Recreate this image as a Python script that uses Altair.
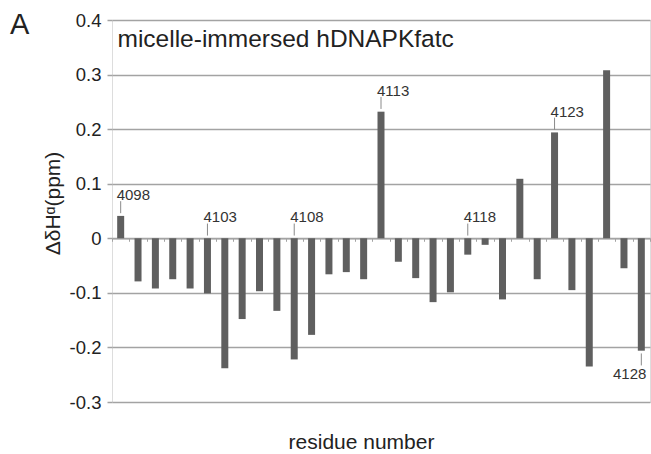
import altair as alt
import pandas as pd

# Hα chemical shift deviations per residue (ppm)
residues = list(range(4098, 4129))
shifts = [0.041, -0.079, -0.092, -0.075, -0.092, -0.101, -0.238, -0.148, -0.097,
          -0.133, -0.222, -0.177, -0.066, -0.062, -0.075, 0.232, -0.043, -0.073,
          -0.117, -0.099, -0.030, -0.012, -0.112, 0.109, -0.075, 0.194, -0.095,
          -0.235, 0.308, -0.055, -0.206]

# residues that get a numbered callout; the last one is labelled under its bar
labeled = [4098, 4103, 4108, 4113, 4118, 4123, 4128]
below = [4128]
y_ticks = [-0.3, -0.2, -0.1, 0, 0.1, 0.2, 0.3, 0.4]

panel_title = "micelle-immersed hDNAPKfatc"
panel_letter = "A"
y_title = "ΔδHᵅ(ppm)"
x_title = "residue number"

bars_df = pd.DataFrame({"residue": residues, "shift": shifts})

# callout leader lines start just off the bar end (or off zero for negative bars)
gap, lead, txt = 0.005, 0.027, 0.029
rows = []
for r, v in zip(residues, shifts):
    if r not in labeled:
        continue
    if r in below:
        base, sign, side = v, -1, "below"
    else:
        base, sign, side = max(v, 0.0), 1, "above"
    rows.append({"residue": r, "label": str(r), "side": side,
                 "y1": base + sign * gap, "y2": base + sign * lead,
                 "ty": base + sign * txt})
lab_df = pd.DataFrame(rows)

W, H = 538, 382
GRID = "#a3a3a3"
FONT = "Liberation Sans"

x_scale = alt.Scale(paddingInner=0, paddingOuter=0)
x_axis = alt.Axis(
    labels=False, title=x_title, offset=-H * 0.3 / 0.7,
    domainColor=GRID, domainWidth=1.5, ticks=True, tickBand="extent",
    tickSize=3, tickColor=GRID, tickWidth=1,
    titleFont=FONT, titleFontSize=21, titleFontWeight="normal", titleColor="#222",
    titleX=249, titleY=210, titleAnchor="start", titleAlign="center",
    titleBaseline="alphabetic",
)
y_scale = alt.Scale(domain=[-0.3, 0.4], nice=False, zero=False)
y_axis = alt.Axis(
    values=y_ticks, title=y_title, domain=False,
    labelExpr="datum.value == 0 ? '0' : (datum.value < 0 ? '-' + format(-datum.value, '.1f') : format(datum.value, '.1f'))",
    labelFont=FONT, labelFontSize=18.5, labelColor="#222", labelPadding=6,
    tickSize=5, tickColor=GRID, tickWidth=1.5,
    grid=True, gridColor=GRID, gridWidth=1.5,
    titleFont=FONT, titleFontSize=21, titleFontWeight="normal", titleColor="#222",
    titleX=-59, titleY=183, titleAngle=270, titleAlign="center",
    titleBaseline="middle",
)

X = alt.X("residue:O", scale=x_scale, axis=x_axis)

bars = alt.Chart(bars_df).mark_bar(size=7, color="#5f5f5f").encode(
    x=X, y=alt.Y("shift:Q", scale=y_scale, axis=y_axis)
)

leaders = alt.Chart(lab_df).mark_rule(color="#8a8a8a", strokeWidth=1).encode(
    x=X, y=alt.Y("y1:Q", scale=y_scale, axis=y_axis), y2="y2:Q"
)

labels_above = alt.Chart(lab_df).transform_filter(
    alt.datum.side == "above"
).mark_text(align="left", baseline="alphabetic", dx=-4, font=FONT,
            fontSize=15, color="#333").encode(
    x=X, y=alt.Y("ty:Q", scale=y_scale, axis=y_axis), text="label:N"
)

labels_below = alt.Chart(lab_df).transform_filter(
    alt.datum.side == "below"
).mark_text(align="right", baseline="top", dx=5, font=FONT,
            fontSize=15, color="#333").encode(
    x=X, y=alt.Y("ty:Q", scale=y_scale, axis=y_axis), text="label:N"
)

title_txt = alt.Chart(pd.DataFrame({"t": [panel_title]})).mark_text(
    align="left", baseline="alphabetic", font=FONT, fontSize=24.5, color="#222"
).encode(text="t:N", x=alt.value(5.5), y=alt.value(27))

letter_txt = alt.Chart(pd.DataFrame({"t": [panel_letter]})).mark_text(
    align="left", baseline="alphabetic", font=FONT, fontSize=29, color="#222"
).encode(text="t:N", x=alt.value(-102), y=alt.value(14))

chart = alt.layer(
    bars, leaders, labels_above, labels_below, title_txt, letter_txt
).properties(
    width=W, height=H,
    autosize=alt.AutoSizeParams(type="none"),
    padding={"left": 112, "top": 20, "right": 1, "bottom": 52},
).configure_view(
    stroke="#999999", strokeWidth=2
).configure(background="white")

chart.save("out.html", embed_options={"renderer": "svg", "actions": False})
